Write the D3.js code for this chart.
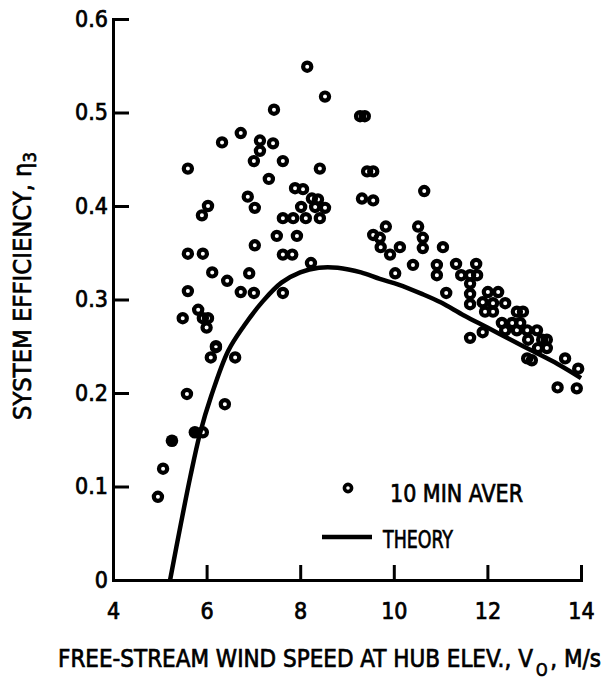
<!DOCTYPE html>
<meta charset="utf-8">
<head>
<style>
body { margin: 0; background: #fff; }
text { font-family: "DejaVu Sans Condensed", "DejaVu Sans", sans-serif; fill: #000; stroke: #000; stroke-width: 0.7px; }
.axis path, .axis line { stroke: #000; stroke-width: 3px; }
.axis text { font-size: 23px; }
</style>
</head>
<body>
<script src="https://d3js.org/d3.v7.min.js"></script>
<div id="chart"></div>
<script>

// 10 min averages (open rings)
var speed = [4.96, 5.07, 5.49, 5.58, 5.6, 5.6, 5.6, 5.82, 5.92, 5.92, 5.9, 6.03, 6.0, 6.03, 6.09, 6.2, 6.2, 6.12,
  6.33, 6.39, 6.44, 6.61, 6.73, 6.73, 6.88, 6.91, 7.01, 7.01, 7.03, 7.03, 7.14, 7.14, 7.33, 7.42, 7.44, 7.5,
  7.63, 7.63, 7.63, 7.63, 7.83, 7.85, 7.89, 7.93, 8.02, 8.06, 8.12, 8.15, 8.23, 8.25, 8.32, 8.38, 8.42, 8.42,
  8.53, 8.53, 9.28, 9.38, 9.32, 9.56, 9.43, 9.56, 9.56, 9.7, 9.72, 9.83, 9.92, 10.03, 10.13, 10.41, 10.52,
  10.62, 10.62, 10.65, 10.92, 10.92, 11.05, 11.12, 11.33, 11.44, 11.63, 11.63, 11.63, 11.63, 11.63, 11.76,
  11.78, 11.9, 11.9, 11.95, 12.01, 12.12, 12.12, 12.23, 12.31, 12.38, 12.38, 12.53, 12.63, 12.63, 12.7, 12.76,
  12.85, 12.85, 12.87, 12.95, 13.06, 13.08, 13.17, 13.27, 13.27, 13.5, 13.66, 13.91, 13.94, 5.92];
var efficiency = [0.089, 0.119, 0.28, 0.199, 0.309, 0.349, 0.44, 0.289, 0.28, 0.349, 0.39, 0.28, 0.27, 0.4, 0.238, 0.249, 0.25, 0.329,
  0.468, 0.188, 0.32, 0.238, 0.478, 0.308, 0.41, 0.328, 0.448, 0.307, 0.398, 0.358, 0.47, 0.459, 0.429, 0.467, 0.503, 0.368,
  0.448, 0.387, 0.348, 0.307, 0.348, 0.387, 0.419, 0.368, 0.399, 0.418, 0.387, 0.549, 0.339, 0.408, 0.399, 0.407, 0.44, 0.387,
  0.517, 0.398, 0.496, 0.496, 0.408, 0.406, 0.437, 0.437, 0.369, 0.366, 0.356, 0.378, 0.348, 0.328, 0.356, 0.337, 0.378,
  0.366, 0.355, 0.416, 0.337, 0.326, 0.356, 0.307, 0.338, 0.326, 0.326, 0.317, 0.306, 0.295, 0.259, 0.338,
  0.326, 0.265, 0.297, 0.287, 0.308, 0.296, 0.287, 0.308, 0.275, 0.296, 0.267, 0.275, 0.287, 0.267, 0.275, 0.287,
  0.267, 0.237, 0.257, 0.235, 0.267, 0.248, 0.257, 0.257, 0.248, 0.206, 0.237, 0.205, 0.226, 0.158];

// solid dots
var solidSpeed = [5.26, 5.75];
var solidEfficiency = [0.149, 0.158];

// theory curve
var theorySpeed = [5.22, 5.45, 5.65, 5.86, 6.1, 6.46, 6.8, 7.2, 7.6, 8.0, 8.4, 8.8, 9.3, 9.7, 10.1, 10.6, 11.0, 11.5, 12.0, 12.5, 13.0, 13.5, 14.0];
var theoryEfficiency = [0, 0.06, 0.11, 0.157, 0.197, 0.245, 0.272, 0.298, 0.318, 0.329, 0.334, 0.334, 0.329, 0.322, 0.316, 0.306, 0.297, 0.283, 0.27, 0.257, 0.244, 0.231, 0.216];

var xTicks = [4, 6, 8, 10, 12, 14];
var yTicks = [0, 0.1, 0.2, 0.3, 0.4, 0.5, 0.6];

var width = 609,
    height = 685;

var x = d3.scaleLinear().domain([4, 14]).range([113, 581]);
var y = d3.scaleLinear().domain([0, 0.6]).range([580, 19]);

var svg = d3.select('#chart')
    .append('svg')
    .attr('width', width)
    .attr('height', height);

svg.append('g')
    .attr('class', 'axis')
    .attr('transform', 'translate(0,580)')
    .call(d3.axisBottom(x).tickValues(xTicks).tickSizeInner(-15).tickSizeOuter(0).tickPadding(23).tickFormat(d3.format('d')));

svg.append('g')
    .attr('class', 'axis')
    .attr('transform', 'translate(113,0)')
    .call(d3.axisLeft(y).tickValues(yTicks).tickSizeInner(-16).tickSizeOuter(0).tickPadding(5)
      .tickFormat(function (d) { return d === 0 ? '0' : d3.format('.1f')(d); }));

svg.selectAll('.axis path').attr('stroke-linecap', 'square');

// theory line
var line = d3.line()
    .x(function (d, i) { return x(theorySpeed[i]); })
    .y(function (d, i) { return y(theoryEfficiency[i]); })
    .curve(d3.curveCatmullRom);

svg.append('path')
    .datum(theorySpeed)
    .attr('d', line)
    .attr('fill', 'none')
    .attr('stroke', '#000')
    .attr('stroke-width', 4.5);

// data rings
svg.append('g').selectAll('circle')
    .data(speed)
    .enter()
    .append('circle')
    .attr('cx', function (d) { return x(d); })
    .attr('cy', function (d, i) { return y(efficiency[i]); })
    .attr('r', 4.1)
    .attr('fill', 'none')
    .attr('stroke', '#000')
    .attr('stroke-width', 4.2);

svg.append('g').selectAll('circle')
    .data(solidSpeed)
    .enter()
    .append('circle')
    .attr('cx', function (d) { return x(d); })
    .attr('cy', function (d, i) { return y(solidEfficiency[i]); })
    .attr('r', 6.3)
    .attr('fill', '#000');

// legend
svg.append('circle')
    .attr('cx', 348).attr('cy', 488).attr('r', 3.6)
    .attr('fill', 'none').attr('stroke', '#000').attr('stroke-width', 3.6);
svg.append('text')
    .attr('x', 390).attr('y', 502)
    .attr('font-size', 25)
    .attr('textLength', 133).attr('lengthAdjust', 'spacingAndGlyphs')
    .text('10 MIN AVER');

svg.append('line')
    .attr('x1', 322).attr('x2', 372).attr('y1', 537).attr('y2', 537)
    .attr('stroke', '#000').attr('stroke-width', 4.5);
svg.append('text')
    .attr('x', 383).attr('y', 548)
    .attr('font-size', 25)
    .attr('textLength', 70).attr('lengthAdjust', 'spacingAndGlyphs')
    .text('THEORY');

// x title: laid out piece by piece, then squeezed to the reference width
var xg = svg.append('g');
var xInner = xg.append('g');
var parts = [
  { t: 'FREE-STREAM WIND SPEED AT HUB ELEV., V', size: 25, dy: 0 },
  { t: 'O', size: 17, dy: 9 },
  { t: ', M/s', size: 25, dy: 0 }
];
var cursor = 0;
parts.forEach(function (p) {
  var t = xInner.append('text')
      .attr('x', cursor).attr('y', p.dy)
      .attr('font-size', p.size)
      .text(p.t);
  cursor += t.node().getComputedTextLength() + 3;
});
var sx = 546 / cursor;
xg.attr('transform', 'translate(58,667) scale(' + sx + ',1)');

var yt = svg.append('text')
    .attr('transform', 'translate(31,420) rotate(-90)')
    .attr('font-size', 25)
    .attr('textLength', 268).attr('lengthAdjust', 'spacingAndGlyphs');
yt.append('tspan').text('SYSTEM EFFICIENCY, η');
yt.append('tspan').attr('dy', 5).attr('font-size', 18).text('3');

</script>
</body>
